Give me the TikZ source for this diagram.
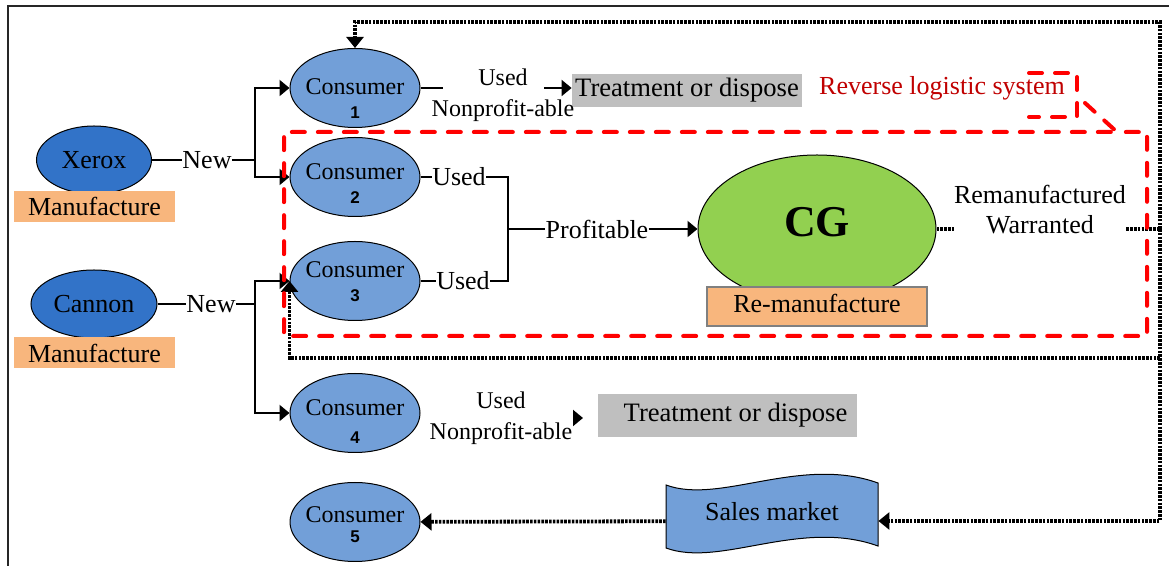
\documentclass[tikz,border=0pt]{standalone}
\usepackage{fontspec}
\setmainfont{Liberation Serif}
\newfontfamily\numfont{Liberation Sans}
\usetikzlibrary{arrows.meta,positioning,calc,shapes.geometric}
\definecolor{makercolor}{RGB}{50,115,200}
\definecolor{consumercolor}{RGB}{114,159,216}
\definecolor{manucolor}{RGB}{248,182,125}
\definecolor{cgcolor}{RGB}{146,208,80}
\definecolor{treatcolor}{RGB}{191,191,191}
\definecolor{rlsred}{RGB}{255,0,0}
\definecolor{rlstext}{RGB}{192,0,0}

\begin{document}
\begin{tikzpicture}[
    x=0.5pt, y=-0.5pt,
    maker/.style={ellipse, draw, line width=0.5pt, fill=makercolor, inner sep=1pt, minimum width=57.5pt, minimum height=34pt, font=\fontsize{13}{15}\selectfont},
    manubox/.style={rectangle, fill=manucolor, inner sep=0pt, minimum width=80.5pt, minimum height=15.5pt, font=\fontsize{13}{15}\selectfont},
    consumer/.style={ellipse, draw, line width=0.5pt, fill=consumercolor, inner sep=0pt, minimum width=65pt, minimum height=39.5pt},
    constext/.style={align=center, inner sep=0pt, font=\fontsize{12}{12}\selectfont},
    treat/.style={rectangle, fill=treatcolor, inner sep=0pt, font=\fontsize{13.3}{15}\selectfont},
    lbl/.style={inner sep=0pt, font=\fontsize{13}{15}\selectfont},
    smalllbl/.style={inner sep=0pt, align=center, font=\fontsize{12}{15.5}\selectfont},
    line/.style={line width=1pt},
    arrow/.style={line width=1pt, -{Triangle[length=5pt,width=8pt]}},
    dotline/.style={line width=1.9pt, dash pattern=on 1.3pt off 0.6pt},
    dotarrow/.style={dotline, -{Triangle[length=5.5pt,width=8.5pt]}},
    rlsline/.style={draw=rlsred, line width=2pt, line cap=round, dash pattern=on 6.5pt off 6.5pt}
]
\useasboundingbox (0,0) rectangle (1169,566);

% Frame
\draw[line width=1pt, black!85] (8,566) -- (8,6) -- (1169,6);

% Manufacturers
\node[maker] (xerox) at (94,160) {Xerox};
\node[manubox] (manu1) at (94.5,206.5) {Manufacture};
\node[maker, minimum width=63pt] (cannon) at (94,304) {Cannon};
\node[manubox] (manu2) at (94.5,353) {Manufacture};

% Consumers
\node[consumer] (c1) at (355,88) {};
\node[constext] at (355,99) {Consumer\\{\numfont\bfseries\fontsize{8.5}{10}\selectfont 1}};
\node[consumer] (c2) at (355,177) {};
\node[constext] at (355,184) {Consumer\\{\numfont\bfseries\fontsize{8.5}{10}\selectfont 2}};
\node[consumer] (c3) at (355,281) {};
\node[constext] at (355,282) {Consumer\\{\numfont\bfseries\fontsize{8.5}{10}\selectfont 3}};
\node[consumer] (c4) at (355,413) {};
\node[constext] at (355,422) {Consumer\\[2pt]{\numfont\bfseries\fontsize{8.5}{10}\selectfont 4}};
\node[consumer] (c5) at (355,522) {};
\node[constext] at (355,525) {Consumer\\[-2pt]{\numfont\bfseries\fontsize{8.5}{10}\selectfont 5}};

% New products
\node[lbl] (new1) at (207,160) {New};
\node[lbl] (new2) at (211,304) {New};
\coordinate (split1) at (255,160);
\coordinate (split2) at (255,304);
\draw[line] (xerox) -- (new1);
\draw[line] (new1) -- (split1);
\draw[arrow] (split1) |- (c1);
\draw[arrow] (split1) |- (c2);
\draw[line] (cannon) -- (new2);
\draw[line] (new2) -- (split2);
\draw[arrow] (split2) |- (c3);
\draw[arrow] (split2) |- (c4);

% Nonprofitable returns
\node[treat, minimum width=115pt, minimum height=16.5pt] (treat1) at (687,90.5) {Treatment or dispose};
\node[treat, minimum width=129.5pt, minimum height=21.5pt] (treat2) at (727.5,415.5) {\hspace{8pt}Treatment or dispose};
\node[smalllbl] (np1) at (503,95) {Used\\Nonprofit-able};
\node[smalllbl] (np4) at (501,418) {Used\\Nonprofit-able};
\coordinate (np1a) at (443,88);
\coordinate (np1b) at (544,88);
\coordinate (np4a) at (574,418);
\coordinate (np4b) at (583,418);
\draw[line] (c1) -- (np1a);
\draw[arrow] (np1b) -- (np1b -| treat1.west);
\draw[arrow] (np4a) -- (np4b);

% Profitable returns
\node[ellipse, draw, line width=0.5pt, fill=cgcolor, minimum width=119pt, minimum height=74pt, text depth=7pt, font=\fontsize{22}{24}\selectfont\bfseries] (cg) at (817,229) {CG};
\node[rectangle, draw=black!50, line width=1pt, fill=manucolor, minimum width=110pt, minimum height=19.5pt, inner sep=0pt, text depth=3pt, font=\fontsize{13}{15}\selectfont] (reman) at (817,306.5) {Re-manufacture};
\node[lbl] (used2) at (459,177) {Used};
\node[lbl] (used3) at (463,281) {Used};
\node[lbl] (profit) at (597,229) {Profitable};
\coordinate (merge) at (508,229);
\draw[line] (c2) -- (used2);
\draw[line] (c3) -- (used3);
\draw[line] (used2) -| (merge) |- (used3);
\draw[line] (merge) -- (profit);
\draw[arrow] (profit) -- (cg);

% Sales market
\draw[line width=0.5pt, fill=consumercolor] (666,485) .. controls (720,505) and (800,455) .. (878,483) -- (878,546) .. controls (800,518) and (720,568) .. (666,548) -- cycle;
\node[lbl, minimum width=106pt, minimum height=30pt, text depth=9.5pt] (sales) at (772,521) {Sales market};

% Remanufactured flow
\node[lbl, align=center] (warr) at (1040,210) {Remanufactured\\Warranted};
\coordinate (rmid) at (1160,229);
\coordinate (rtop) at (1160,22);
\coordinate (rlow) at (1160,358);
\draw[dotline] (cg.east) -- (cg.east -| warr.west);
\draw[dotline] (cg.east -| warr.east) -- (rmid);
\draw[dotarrow] (rmid) -- (rtop) -| (c1);
\draw[dotarrow] (rmid) |- (sales);
\draw[dotarrow] (rlow) -| (c3.west);
\draw[dotarrow] (sales) -- (c5);

% Reverse logistic system
\draw[rlsline] (1085,103) -- (1117,132) -- (1147,132) -- (1147,336) -- (284,336) -- (284,132) -- (1117,132);
\draw[rlsline] (1029,73) -- (1077,73) -- (1077,117) -- (1029,117);
\node[lbl, text=rlstext] (rls) at (942,88) {Reverse logistic system};

\end{tikzpicture}
\end{document}
